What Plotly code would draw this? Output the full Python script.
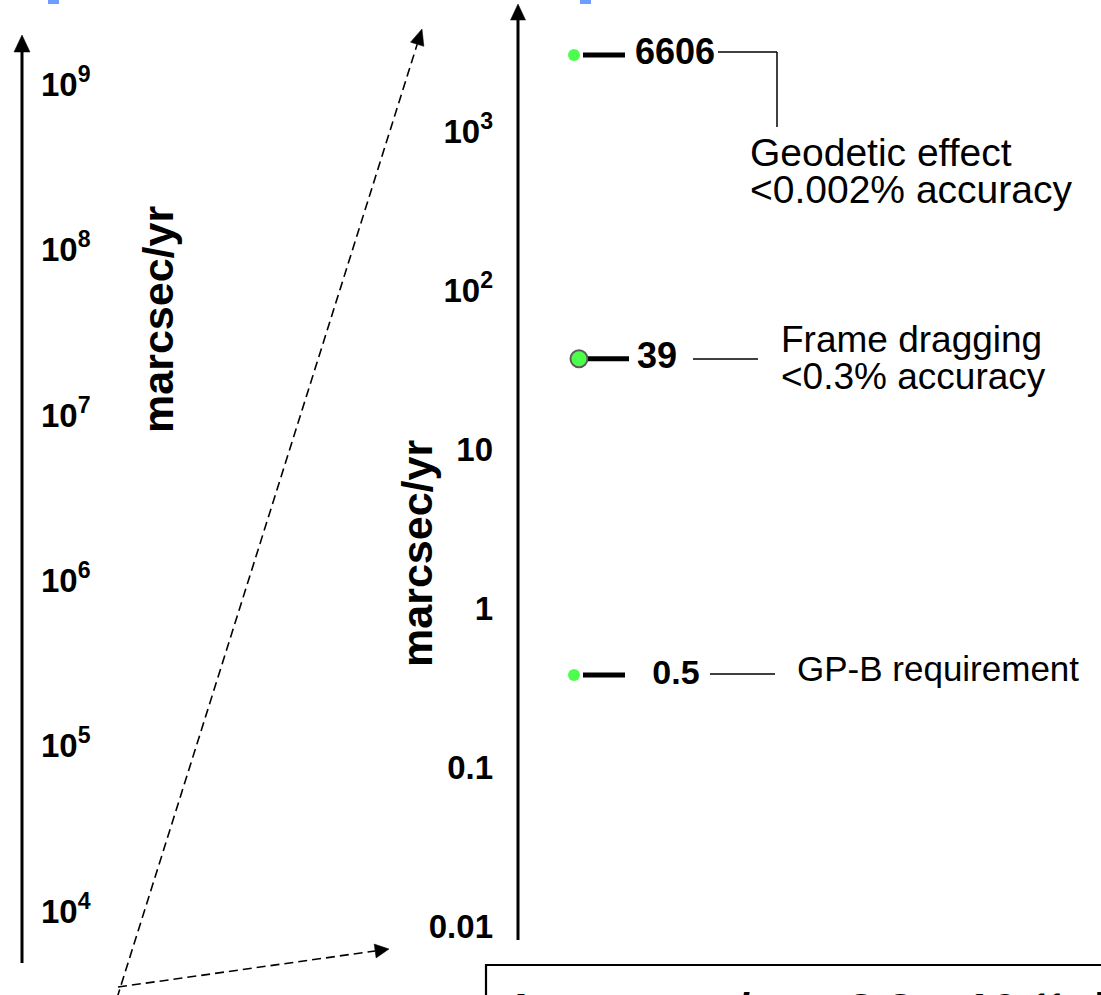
import plotly.graph_objects as go

W, H = 1101, 995

# ---------------- data ----------------
left_tick_vals = [1e4, 1e5, 1e6, 1e7, 1e8, 1e9]
left_tick_text = ["10<sup>4</sup>", "10<sup>5</sup>", "10<sup>6</sup>",
                  "10<sup>7</sup>", "10<sup>8</sup>", "10<sup>9</sup>"]
right_tick_vals = [0.01, 0.1, 1, 10, 100, 1000]
right_tick_text = ["0.01", "0.1", "1", "10", "10<sup>2</sup>", "10<sup>3</sup>"]

effect_labels = ["6606", "39", "0.5"]          # printed values
effect_axis_level = [3000, 37, 0.38]           # where each marker sits on the right scale
effect_desc_line1 = ["Geodetic effect", "Frame dragging", "GP-B requirement"]
effect_desc_line2 = ["<0.002% accuracy", "<0.3% accuracy", ""]
axis_title = "marcsec/yr"
conversion_note = "1 marcsec/yr = 3.2 x 10⁻¹¹ deg/hr"

# log10 extent of the two scales as drawn on the slide
left_range = [3.493, 9.509]
right_range = [-2.431, 3.823]

# ---------------- layout helpers (pixel positions) ----------------
FONT = "Liberation Sans, Arial, sans-serif"
LEFT_AXIS_X = 22
RIGHT_AXIS_X = 518
dot_x = [574, 579, 574]
dot_size = [12, 17, 12]
dot_outline = [0, 2, 0]
stub_x = [(583, 625), (588, 629), (583, 625)]
label_x = [675, 657, 676]
label_size = [36, 36, 34]
desc_size = [39, 37, 35]


def P(x, y):
    return x / W, 1 - y / H


shapes = []


def seg(x0, y0, x1, y1, width=1.5, dash=None, color="black"):
    a, b = P(x0, y0)
    c, d = P(x1, y1)
    ln = dict(color=color, width=width)
    if dash:
        ln["dash"] = dash
    shapes.append(dict(type="line", xref="paper", yref="paper",
                       x0=a, y0=b, x1=c, y1=d, line=ln, layer="above"))


def head(tip, start, length, half):
    tx, ty = tip
    sx, sy = start
    dx, dy = tx - sx, ty - sy
    n = (dx * dx + dy * dy) ** 0.5
    ux, uy = dx / n, dy / n
    bx, by = tx - ux * length, ty - uy * length
    px_, py_ = -uy, ux
    pts = [(tx, ty), (bx + px_ * half, by + py_ * half), (bx - px_ * half, by - py_ * half)]
    pp = [P(*p) for p in pts]
    path = "M {} {} L {} {} L {} {} Z".format(pp[0][0], pp[0][1], pp[1][0], pp[1][1], pp[2][0], pp[2][1])
    shapes.append(dict(type="path", xref="paper", yref="paper", path=path,
                       fillcolor="black", line=dict(color="black", width=0.5), layer="above"))
    return bx, by


def arrow(start, tip, length, half, width, dash=None):
    bx, by = head(tip, start, length, half)
    seg(start[0], start[1], bx, by, width=width, dash=dash)


def rect(x0, y0, x1, y1, fill=None, line_w=0, line_c="black"):
    a, b = P(x0, y0)
    c, d = P(x1, y1)
    shapes.append(dict(type="rect", xref="paper", yref="paper", x0=a, y0=b, x1=c, y1=d,
                       fillcolor=fill if fill else "rgba(0,0,0,0)",
                       line=dict(color=line_c, width=line_w), layer="above"))


# axis arrows
arrow((LEFT_AXIS_X, 963), (LEFT_AXIS_X, 35), 17, 8, 3)
arrow((RIGHT_AXIS_X, 940), (RIGHT_AXIS_X, 4), 16, 7.5, 3)
# dashed zoom arrows
arrow((117, 998), (422, 29), 16, 7, 1.6, dash="9px,5px")
arrow((118, 987), (389, 949), 14, 7, 1.6, dash="9px,5px")
# connectors
seg(718, 52, 777, 52)
seg(777, 52, 777, 127)
seg(693, 359, 758, 359)
seg(710, 674, 775, 674)
# blue remnants at the top
rect(48, 0, 59, 4, fill="#6f9cff")
rect(580, 0, 591, 4, fill="#6f9cff")
# conversion box
rect(486, 965, 1130, 1040, line_w=2.2)

# ---------------- traces ----------------
fig = go.Figure()
fig.add_trace(go.Scatter(x=[None], y=[None], xaxis="x", yaxis="y",
                         showlegend=False, hoverinfo="skip"))

sx, sy = [], []
for (a, b), v in zip(stub_x, effect_axis_level):
    sx += [a, b, None]
    sy += [v, v, None]
fig.add_trace(go.Scatter(x=sx, y=sy, xaxis="x", yaxis="y2", mode="lines",
                         line=dict(color="black", width=5), showlegend=False, hoverinfo="skip"))
fig.add_trace(go.Scatter(x=dot_x, y=effect_axis_level, xaxis="x", yaxis="y2", mode="markers",
                         marker=dict(color="#00ff00", size=dot_size,
                                     line=dict(color="#1a1a1a", width=dot_outline)),
                         showlegend=False, hoverinfo="skip"))
fig.add_trace(go.Scatter(x=label_x, y=effect_axis_level, xaxis="x", yaxis="y2", mode="text",
                         text=effect_labels, texttemplate="<b>%{text}</b>",
                         textposition="middle center",
                         textfont=dict(family=FONT, size=label_size, color="black"),
                         showlegend=False, hoverinfo="skip"))

# ---------------- annotations ----------------
annotations = []


def note(x, y, text, size, bold=False, xanchor="left", yanchor="middle", angle=0):
    a, b = P(x, y)
    annotations.append(dict(xref="paper", yref="paper", x=a, y=b, text=("<b>%s</b>" % text) if bold else text,
                            showarrow=False, xanchor=xanchor, yanchor=yanchor, textangle=angle,
                            font=dict(family=FONT, size=size, color="black")))


desc_pos = [((748, 152), (748, 190)), ((779, 340), (779, 376)), ((795, 668), None)]
for (p1, p2), t1, t2, fs in zip(desc_pos, effect_desc_line1, effect_desc_line2, desc_size):
    note(p1[0], p1[1], t1, fs)
    if p2 and t2:
        note(p2[0], p2[1], t2, fs)

note(158, 320, axis_title, 43, bold=True, xanchor="center", angle=-90)
note(417, 554, axis_title, 43, bold=True, xanchor="center", angle=-90)
note(505, 980.5, conversion_note, 47, bold=True, xanchor="left", yanchor="top")

tickfont = dict(family=FONT, size=33, color="black")
fig.update_layout(
    width=W, height=H, autosize=False,
    margin=dict(l=0, r=0, t=0, b=0, pad=0),
    paper_bgcolor="white", plot_bgcolor="white",
    showlegend=False,
    xaxis=dict(range=[0, W], visible=False, domain=[0, 1], fixedrange=True),
    yaxis=dict(type="log", range=left_range, domain=[0, 1], anchor="free",
               position=LEFT_AXIS_X / W, side="right", showgrid=False, zeroline=False,
               showline=False, ticks="", tickvals=left_tick_vals,
               ticktext=["<b>%s</b>" % t for t in left_tick_text], tickfont=tickfont,
               ticklabelstandoff=18, fixedrange=True),
    yaxis2=dict(type="log", range=right_range, overlaying="y", anchor="free",
                position=RIGHT_AXIS_X / W, side="left", showgrid=False, zeroline=False,
                showline=False, ticks="", tickvals=right_tick_vals,
                ticktext=["<b>%s</b>" % t for t in right_tick_text], tickfont=tickfont,
                ticklabelstandoff=25, fixedrange=True),
    shapes=shapes,
    annotations=annotations,
)

fig.write_html("out.html", config={"displayModeBar": False})
